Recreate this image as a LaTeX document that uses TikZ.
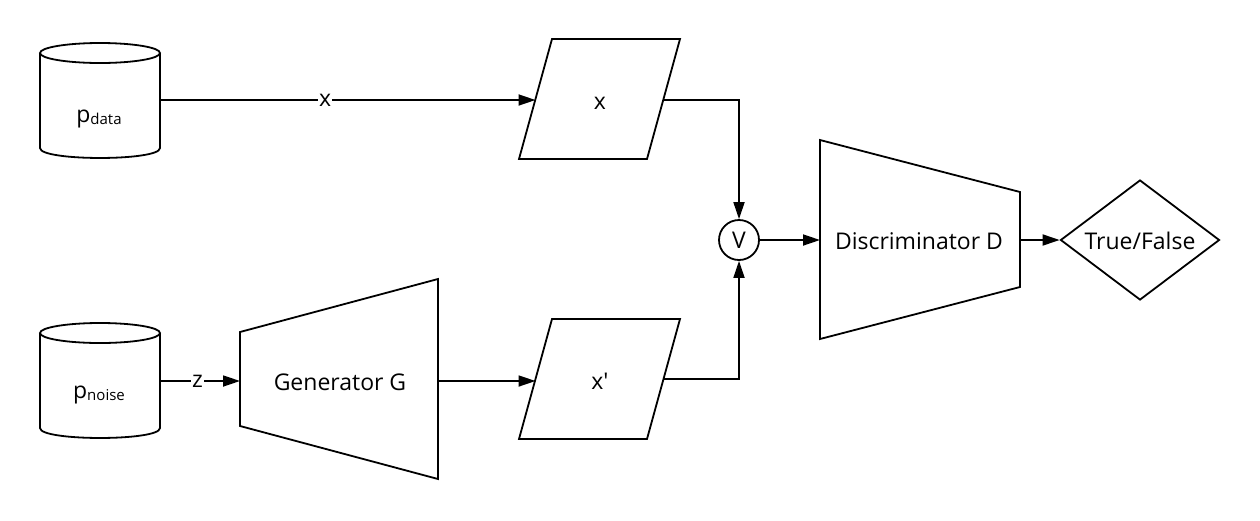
\documentclass[tikz,border=0pt]{standalone}
\usepackage{fontspec}
\setmainfont{Open Sans}
\usetikzlibrary{arrows.meta,shapes.geometric}
\tikzset{
  shp/.style={draw=black,line width=1.8pt,line join=miter},
  conn/.style={draw=black,line width=1.8pt,-{Triangle[length=17pt,width=11pt]}},
  lbl/.style={font=\fontsize{23}{27}\selectfont,inner sep=0pt,anchor=base},
  onl/.style={font=\fontsize{23}{27}\selectfont,fill=white,inner sep=1pt},
}
\newcommand{\smallsub}[1]{\raisebox{-2.5pt}{\fontsize{15}{15}\selectfont #1}}
\begin{document}
\begin{tikzpicture}[x=1pt,y=-1pt]
\useasboundingbox (0,0) rectangle (1260,520);
% cylinders
\draw[shp] (100,53) ellipse [x radius=60, y radius=10];
\draw[shp] (40,53) -- (40,148) .. controls (40,161.3) and (160,161.3) .. (160,148) -- (160,53);
\node[lbl] (pdata) at (99,122) {p\smallsub{data}};
\coordinate (pdataE) at (160,100);
\draw[shp] (100,333) ellipse [x radius=60, y radius=10];
\draw[shp] (40,333) -- (40,428) .. controls (40,441.3) and (160,441.3) .. (160,428) -- (160,333);
\node[lbl] (pnoise) at (99,398) {p\smallsub{noise}};
\coordinate (pnoiseE) at (160,381);
% generator
\draw[shp] (240,332) -- (438,279) -- (438,479) -- (240,426) -- cycle;
\node[lbl] (gen) at (340,390) {Generator G};
\coordinate (genW) at (240,381);
\coordinate (genE) at (438,381);
% parallelograms
\draw[shp] (552,39) -- (680,39) -- (647,159) -- (519,159) -- cycle;
\node[lbl] (x) at (600,109) {x};
\coordinate (xW) at (535.5,100);
\coordinate (xE) at (663.5,100);
\draw[shp] (552,319) -- (680,319) -- (647,439) -- (519,439) -- cycle;
\node[lbl] (xp) at (600,389) {x\textquotesingle};
\coordinate (xpW) at (535.5,381);
\coordinate (xpE) at (663.5,379);
% or node
\node[draw=black,line width=1.8pt,circle,minimum size=40pt,inner sep=0pt,font=\fontsize{23}{27}\selectfont] (v) at (739,240) {V};
% discriminator
\draw[shp] (820,140) -- (1020,192) -- (1020,287) -- (820,339) -- cycle;
\node[lbl] (disc) at (919,249) {Discriminator D};
\coordinate (discW) at (820,240);
\coordinate (discE) at (1020,240);
% decision
\node[draw=black,line width=1.8pt,diamond,minimum width=159pt,minimum height=120pt,inner sep=0pt] (tf) at (1140,240) {};
\node[lbl] (tft) at (1140,249) {True/False};
% connectors
\draw[conn] (pdataE) -- node[onl,pos=0.44] {x} (xW);
\draw[conn] (pnoiseE) -- node[onl,pos=0.47] {z} (genW);
\draw[conn] (genE) -- (xpW);
\draw[conn] (xE) -| (v.north);
\draw[conn] (xpE) -| (v.south);
\draw[conn] (v.east) -- (discW);
\draw[conn] (discE) -- (tf.west);
\end{tikzpicture}
\end{document}
